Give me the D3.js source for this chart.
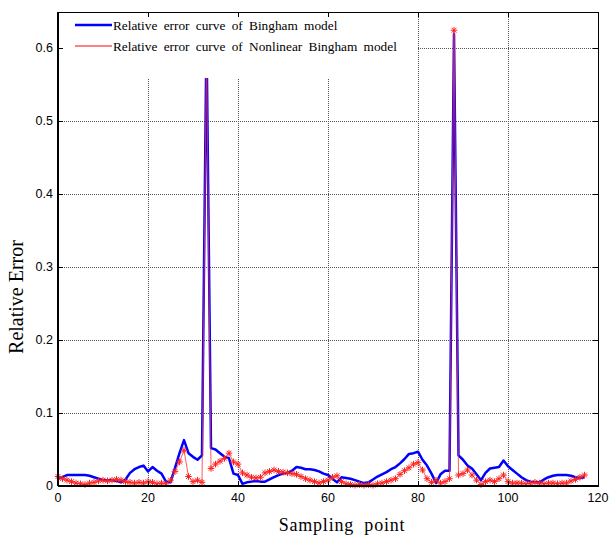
<!DOCTYPE html>
<html>
<head>
<meta charset="utf-8">
<script src="https://cdn.jsdelivr.net/npm/d3@7"></script>
<style>
  body { margin: 0; background: #fff; }
  svg { display: block; }
</style>
</head>
<body>
<script>
var width = 609,
    height = 541,
    margin = {top: 12, right: 11, bottom: 55, left: 58};

// relative error, one value per sampling point 0..117
var bingham = [
  0.010, 0.012, 0.015, 0.015, 0.015, 0.015, 0.015, 0.014, 0.012, 0.010,
  0.008, 0.008, 0.008, 0.007, 0.005, 0.009, 0.018, 0.023, 0.026, 0.028,
  0.020, 0.026, 0.021, 0.017, 0.006, 0.005, 0.025, 0.045, 0.063, 0.045,
  0.040, 0.036, 0.042, 0.620, 0.052, 0.050, 0.045, 0.040, 0.038, 0.017,
  0.015, 0.003, 0.005, 0.006, 0.007, 0.006, 0.006, 0.009, 0.012, 0.015,
  0.017, 0.018, 0.021, 0.026, 0.025, 0.023, 0.023, 0.022, 0.020, 0.017,
  0.015, 0.010, 0.005, 0.012, 0.011, 0.010, 0.008, 0.006, 0.004, 0.005,
  0.009, 0.013, 0.016, 0.019, 0.023, 0.026, 0.031, 0.037, 0.044, 0.045,
  0.047, 0.036, 0.028, 0.017, 0.004, 0.016, 0.021, 0.021, 0.620, 0.042,
  0.036, 0.028, 0.024, 0.016, 0.008, 0.018, 0.024, 0.025, 0.026, 0.035,
  0.027, 0.022, 0.017, 0.012, 0.008, 0.006, 0.005, 0.005, 0.009, 0.012,
  0.014, 0.015, 0.015, 0.015, 0.014, 0.012, 0.011, 0.012
];
var nonlinear = [
  0.013, 0.010, 0.008, 0.006, 0.004, 0.003, 0.002, 0.004, 0.005, 0.007,
  0.008, 0.007, 0.008, 0.009, 0.008, 0.006, 0.005, 0.004, 0.005, 0.004,
  0.006, 0.005, 0.003, 0.004, 0.003, 0.008, 0.020, 0.033, 0.049, 0.013,
  0.006, 0.008, 0.005, 0.600, 0.024, 0.030, 0.034, 0.038, 0.045, 0.033,
  0.030, 0.018, 0.015, 0.012, 0.011, 0.012, 0.018, 0.020, 0.022, 0.020,
  0.019, 0.018, 0.017, 0.016, 0.013, 0.010, 0.008, 0.006, 0.004, 0.006,
  0.008, 0.012, 0.014, 0.006, 0.003, 0.002, 0.001, 0.002, 0.001, 0.002,
  0.001, 0.003, 0.004, 0.006, 0.008, 0.010, 0.016, 0.021, 0.025, 0.030,
  0.032, 0.022, 0.010, 0.005, 0.008, 0.004, 0.006, 0.010, 0.625, 0.015,
  0.017, 0.022, 0.015, 0.008, 0.002, 0.006, 0.008, 0.006, 0.010, 0.015,
  0.006, 0.004, 0.004, 0.004, 0.003, 0.004, 0.005, 0.004, 0.003, 0.004,
  0.004, 0.003, 0.004, 0.004, 0.007, 0.009, 0.012, 0.015
];
var xTicks = [0, 20, 40, 60, 80, 100, 120];
var yTicks = [0, 0.1, 0.2, 0.3, 0.4, 0.5, 0.6];
var legendLabels = ["Relative error curve of Bingham model",
                    "Relative error curve of Nonlinear Bingham model"];

var x = d3.scaleLinear().domain([0, 120]).range([margin.left, width - margin.right]);
var y = d3.scaleLinear().domain([0, 0.65]).range([height - margin.bottom, margin.top]);

var svg = d3.select("body").append("svg")
    .attr("width", width)
    .attr("height", height);

// grid
var grid = svg.append("g").attr("stroke", "#555").attr("stroke-width", 1)
    .attr("stroke-dasharray", "1,1").attr("shape-rendering", "crispEdges");
grid.selectAll(".gx").data(xTicks.slice(1, -1)).enter().append("line")
    .attr("x1", function(d) { return x(d); }).attr("x2", function(d) { return x(d); })
    .attr("y1", y(0)).attr("y2", y(0.65));
grid.selectAll(".gy").data(yTicks.slice(1)).enter().append("line")
    .attr("x1", x(0)).attr("x2", x(120))
    .attr("y1", function(d) { return y(d); }).attr("y2", function(d) { return y(d); });

var line = d3.line()
    .x(function(d, i) { return x(i); })
    .y(function(d) { return y(d); });

svg.append("path")
    .datum(bingham)
    .attr("d", line)
    .attr("fill", "none")
    .attr("stroke", "#0000ff")
    .attr("stroke-width", 2.5)
    .attr("stroke-linejoin", "round");

svg.append("path")
    .datum(nonlinear)
    .attr("d", line)
    .attr("fill", "none")
    .attr("stroke", "#ff3030")
    .attr("stroke-width", 0.8);

// asterisk markers
var star = "M-3.3,0H3.3M0,-3.3V3.3M-2.4,-2.4L2.4,2.4M-2.4,2.4L2.4,-2.4";
svg.append("g").selectAll("path").data(nonlinear).enter().append("path")
    .attr("transform", function(d, i) { return "translate(" + x(i) + "," + y(d) + ")"; })
    .attr("d", star)
    .attr("fill", "none")
    .attr("stroke", "#ff2020")
    .attr("stroke-width", 1);

// legend (white box over the plot)
var lg = svg.append("g");
lg.append("rect")
    .attr("x", x(0)).attr("y", margin.top)
    .attr("width", x(80) - x(0)).attr("height", 66)
    .attr("fill", "#fff");
lg.selectAll("line").data(legendLabels).enter().append("line")
    .attr("x1", 75).attr("x2", 112)
    .attr("y1", function(d, i) { return 25 + i * 21; })
    .attr("y2", function(d, i) { return 25 + i * 21; })
    .attr("stroke", function(d, i) { return i ? "#ff0000" : "#0000ff"; })
    .attr("stroke-width", function(d, i) { return i ? 1 : 2.5; });
lg.selectAll("text").data(legendLabels).enter().append("text")
    .attr("x", 113)
    .attr("y", function(d, i) { return 29.5 + i * 21; })
    .attr("font-family", "'Liberation Serif', 'Times New Roman', serif")
    .attr("font-size", 13.3)
    .attr("word-spacing", 3)
    .text(function(d) { return d; });

// axes box with inward ticks
var ax = svg.append("g").attr("stroke", "#000").attr("shape-rendering", "crispEdges");
ax.append("rect")
    .attr("x", x(0)).attr("y", y(0.65))
    .attr("width", x(120) - x(0)).attr("height", y(0) - y(0.65))
    .attr("fill", "none").attr("stroke-width", 1);
ax.append("line").attr("x1", x(0)).attr("x2", x(120))
    .attr("y1", y(0)).attr("y2", y(0)).attr("stroke-width", 2);
ax.append("line").attr("x1", x(0)).attr("x2", x(0))
    .attr("y1", y(0)).attr("y2", y(0.65)).attr("stroke-width", 1.5);

xTicks.forEach(function(t) {
  ax.append("line").attr("x1", x(t)).attr("x2", x(t)).attr("y1", y(0)).attr("y2", y(0) - 5);
  ax.append("line").attr("x1", x(t)).attr("x2", x(t)).attr("y1", y(0.65)).attr("y2", y(0.65) + 5);
});
yTicks.forEach(function(t) {
  ax.append("line").attr("x1", x(0)).attr("x2", x(0) + 5).attr("y1", y(t)).attr("y2", y(t));
  ax.append("line").attr("x1", x(120)).attr("x2", x(120) - 5).attr("y1", y(t)).attr("y2", y(t));
});

var tickFont = "'Liberation Sans', Arial, sans-serif";
svg.append("g").selectAll("text").data(xTicks).enter().append("text")
    .attr("x", function(d) { return x(d); })
    .attr("y", y(0) + 16)
    .attr("text-anchor", "middle")
    .attr("font-family", tickFont).attr("font-size", 12.5)
    .text(function(d) { return d; });
svg.append("g").selectAll("text").data(yTicks).enter().append("text")
    .attr("x", x(0) - 5)
    .attr("y", function(d) { return y(d) + 4; })
    .attr("text-anchor", "end")
    .attr("font-family", tickFont).attr("font-size", 12.5)
    .text(function(d) { return d; });

svg.append("text")
    .attr("x", 342).attr("y", 531)
    .attr("text-anchor", "middle")
    .attr("font-family", "'Liberation Serif', 'Times New Roman', serif")
    .attr("font-size", 18)
    .attr("letter-spacing", 0.8)
    .attr("word-spacing", 5)
    .text("Sampling point");

svg.append("text")
    .attr("transform", "translate(23,297) rotate(-90)")
    .attr("text-anchor", "middle")
    .attr("font-family", "'Liberation Serif', 'Times New Roman', serif")
    .attr("font-size", 20)
    .text("Relative Error");
</script>
</body>
</html>
